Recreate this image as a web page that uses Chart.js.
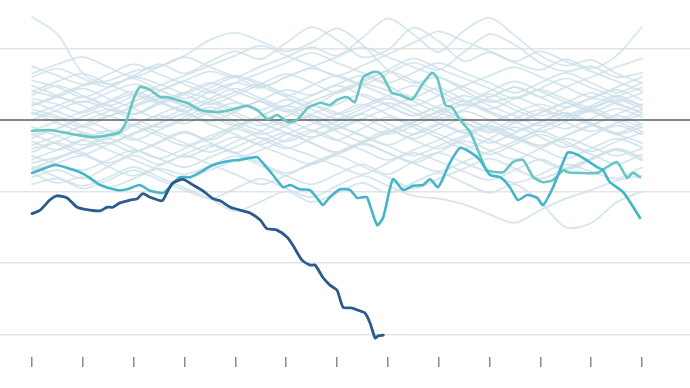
<!DOCTYPE html>
<html>
<head>
<meta charset="utf-8">
<script src="https://cdn.jsdelivr.net/npm/chart.js@4"></script>
<style>
  html, body { margin: 0; padding: 0; background: #fff; }
  #wrap { width: 690px; height: 388px; }
</style>
</head>
<body>
<div id="wrap"><canvas id="chart" width="690" height="388"></canvas></div>
<script>
// x positions of the bottom tick marks
const tickWeeks = [0, 10, 20, 30, 40, 50, 60, 70, 80, 90, 100, 110, 120];
// light gridlines; 0 is the dark baseline, drawn separately above the grey lines
const gridValues = [-30, -20, -10, 10];
const baselineValue = 0;

// background lines are sampled every 5 weeks
const bgWeeks = [0, 5, 10, 15, 20, 25, 30, 35, 40, 45, 50, 55, 60, 65, 70, 75, 80, 85, 90, 95, 100, 105, 110, 115, 120];

const bg01 = [14.4, 12.0, 6.5, 5.0, 5.8, 4.2, 3.0, 4.5, 6.0, 5.2, 3.2, 2.0, 3.8, 5.0, 4.1, 2.6, 1.2, 2.2, 3.6, 2.0, 0.6, 1.6, 3.0, 2.2, 1.0];
const bg02 = [2.0, 3.5, 4.8, 5.5, 6.8, 7.5, 9.0, 11.2, 12.2, 11.0, 9.6, 10.8, 12.8, 10.5, 7.0, 5.2, 6.0, 4.1, 2.5, 3.2, 1.8, 0.5, 1.5, 2.8, 1.6];
const bg03 = [4.0, 3.2, 2.5, 3.8, 5.0, 4.2, 5.5, 6.8, 6.0, 7.5, 8.8, 10.2, 9.0, 11.5, 14.2, 12.0, 9.5, 12.5, 14.3, 11.8, 9.0, 7.6, 8.4, 6.5, 5.2];
const bg04 = [6.0, 7.2, 5.8, 4.6, 6.2, 7.8, 6.5, 8.2, 9.6, 8.5, 10.8, 13.0, 11.2, 8.8, 9.8, 12.9, 11.0, 8.2, 9.5, 8.0, 7.0, 8.5, 7.2, 9.0, 13.0];
const bg05 = [1.0, 0.2, -1.0, 0.5, 1.8, 3.0, 2.2, 4.0, 5.2, 4.5, 6.0, 7.2, 6.1, 5.0, 6.5, 8.0, 7.0, 9.5, 12.0, 10.5, 8.0, 6.8, 7.5, 6.0, 6.6];
const bg06 = [-2.0, -1.2, 0.5, 1.5, 0.8, 2.5, 3.8, 2.9, 1.6, 2.8, 4.2, 3.5, 5.0, 6.2, 4.8, 3.2, 4.5, 2.8, 1.5, 3.0, 4.2, 2.9, 1.8, 3.3, 4.5];
const bg07 = [-4.0, -3.0, -1.8, -2.5, -0.8, 0.6, -0.5, 1.2, 2.4, 1.0, -0.6, 0.8, 2.2, 3.6, 2.1, 0.6, 1.8, -0.2, -1.5, 0.2, 1.4, -0.3, -1.6, -0.4, 0.8];
const bg08 = [-6.0, -5.2, -4.0, -3.2, -4.5, -3.0, -1.6, -2.8, -1.2, 0.2, -1.0, -2.4, -0.8, 0.8, -0.5, -2.0, -0.6, 1.2, 0.0, -1.5, -0.2, 1.0, -0.6, -2.0, -1.0];
const bg09 = [-8.0, -7.0, -8.2, -6.5, -5.0, -6.2, -4.8, -3.5, -4.6, -3.0, -1.8, -3.2, -4.5, -3.0, -1.5, -2.8, -4.0, -2.5, -1.0, -2.4, -3.6, -2.2, -0.8, -2.0, -3.2];
const bg10 = [3.0, 2.2, 1.0, 2.4, 3.6, 2.5, 1.2, 2.6, 3.9, 5.0, 3.6, 2.2, 0.8, 2.0, 3.4, 4.8, 3.5, 2.0, 3.2, 4.6, 3.2, 1.8, 3.0, 4.2, 2.8];
const bg11 = [0.0, 1.4, 2.6, 1.5, 0.2, -1.0, 0.4, 1.8, 0.6, -0.8, 0.5, 2.0, 1.0, -0.5, -2.0, -0.8, 0.6, 2.2, 1.0, -0.4, 1.0, 2.4, 1.2, 0.0, 1.5];
const bg12 = [-3.0, -4.2, -2.8, -1.5, -2.6, -4.0, -5.2, -3.8, -2.4, -3.6, -5.0, -6.2, -4.8, -3.4, -4.6, -6.0, -4.5, -3.0, -4.2, -5.5, -4.0, -2.6, -3.8, -5.0, -4.0];
const bg13 = [5.5, 4.6, 3.2, 4.5, 6.0, 5.0, 3.6, 2.2, 3.5, 5.0, 6.4, 5.2, 3.8, 5.2, 6.8, 5.5, 4.0, 2.6, 4.0, 5.4, 4.0, 2.5, 1.2, 2.5, 3.8];
const bg14 = [-1.0, -2.2, -3.5, -2.0, -0.6, -1.8, -3.2, -4.5, -3.0, -1.6, -0.2, -1.5, -2.8, -1.2, 0.4, -1.0, -2.5, -4.0, -2.6, -1.0, -2.4, -3.8, -2.2, -0.8, -2.0];
const bg15 = [-5.0, -6.2, -7.0, -5.6, -4.2, -5.4, -6.6, -5.2, -3.8, -2.5, -3.8, -5.0, -6.4, -7.6, -6.0, -4.6, -5.8, -7.2, -8.4, -7.0, -5.5, -6.8, -5.4, -4.0, -5.2];
const bg16 = [1.5, 0.5, -0.8, -2.0, -0.6, 0.8, 2.0, 0.8, -0.6, -2.0, -0.8, 0.6, -0.8, -2.2, -3.5, -2.0, -0.6, -1.8, -3.2, -1.8, -0.4, 1.0, -0.4, -1.8, -0.5];
const bg17 = [4.0, 5.4, 6.5, 5.0, 3.6, 2.4, 3.8, 5.2, 4.0, 2.6, 1.2, 2.6, 4.0, 5.5, 7.0, 8.6, 7.2, 5.8, 4.4, 3.0, 4.4, 5.8, 4.5, 3.2, 2.0];
const bg18 = [-7.0, -6.0, -5.0, -6.5, -7.8, -6.4, -5.0, -6.2, -7.6, -9.0, -7.8, -6.2, -5.0, -6.5, -8.0, -9.6, -8.2, -6.8, -5.4, -6.8, -8.2, -6.8, -5.4, -4.2, -5.6];
const bg19 = [-9.0, -8.2, -9.6, -8.4, -7.0, -8.4, -9.8, -11.0, -9.6, -8.2, -9.6, -10.8, -9.2, -7.8, -9.2, -10.6, -11.0, -11.8, -13.2, -14.4, -12.6, -11.0, -9.8, -8.5, -7.8];
const bg20 = [-6.5, -8.0, -9.2, -8.0, -6.6, -8.0, -9.5, -11.0, -12.8, -11.4, -10.0, -11.5, -10.2, -8.8, -10.2, -8.8, -7.4, -8.8, -10.2, -9.0, -11.5, -15.0, -14.4, -11.5, -10.0];
const bg21 = [2.5, 1.2, 0.0, 1.2, 2.6, 4.0, 5.4, 4.0, 2.6, 1.4, 2.8, 1.5, 0.2, 1.6, 3.0, 1.6, 0.2, 1.5, 2.8, 1.4, 0.0, -1.2, 0.2, 1.6, 0.4];
const bg22 = [-2.5, -1.2, 0.0, -1.4, -2.8, -1.4, 0.0, 1.2, -0.2, -1.6, -3.0, -1.6, -0.2, 1.0, 2.4, 1.0, -0.4, -1.8, -0.4, 1.0, 2.2, 0.8, -0.6, 0.8, 2.2];
const bg23 = [7.5, 6.2, 5.0, 6.4, 7.8, 6.4, 5.0, 3.8, 5.2, 6.6, 8.0, 9.4, 8.0, 6.6, 5.2, 6.6, 8.0, 6.6, 5.2, 3.8, 5.2, 6.6, 5.2, 3.8, 5.2];
const bg24 = [-4.5, -3.2, -4.6, -6.0, -4.6, -3.2, -1.8, -3.2, -4.6, -6.0, -7.4, -6.0, -4.6, -3.2, -4.6, -6.0, -7.2, -5.8, -4.4, -3.0, -1.6, -3.0, -4.4, -3.0, -1.8];
const bg25 = [0.8, 2.0, 3.2, 2.0, 0.8, 2.2, 3.6, 5.0, 6.2, 4.8, 3.4, 4.8, 6.2, 4.8, 3.4, 2.0, 3.4, 4.8, 6.2, 7.4, 6.0, 4.6, 3.2, 4.6, 6.0];
const bg26 = [-3.5, -2.2, -0.8, 0.5, -0.8, -2.2, -3.6, -2.2, -0.8, 0.6, 2.0, 0.6, -0.8, -2.2, -3.6, -5.0, -3.6, -2.2, -0.8, -2.2, -3.6, -2.2, -0.8, 0.6, -0.6];
const bg27 = [6.5, 7.8, 8.8, 7.4, 6.0, 7.4, 8.8, 7.4, 6.0, 4.6, 6.0, 7.4, 8.8, 10.2, 8.8, 7.4, 6.0, 4.6, 3.2, 4.6, 3.2, 4.6, 6.0, 7.4, 8.6];
const bg28 = [-5.5, -4.2, -2.8, -4.2, -5.6, -7.0, -8.2, -7.0, -5.6, -4.2, -2.8, -1.4, -2.8, -4.2, -5.6, -4.2, -2.8, -1.4, -2.8, -4.2, -5.6, -7.0, -5.6, -4.2, -5.6];
const bg29 = [2.0, 3.2, 4.4, 3.0, 1.6, 0.2, 1.6, 3.0, 4.4, 3.0, 1.6, 0.2, -1.2, 0.2, 1.6, 3.0, 1.6, 0.2, -1.2, -2.6, -1.2, 0.2, 1.6, 0.2, -1.0];
const bg30 = [-1.5, -0.2, 1.2, 2.6, 4.0, 2.6, 1.2, -0.2, 1.2, 2.6, 1.2, -0.2, -1.6, -3.0, -1.6, -0.2, 1.2, 2.6, 1.2, -0.2, -1.6, -0.2, 1.2, -0.2, -1.6];
const bg31 = [-7.5, -8.8, -8.0, -9.4, -8.2, -6.8, -7.6, -6.4, -5.0, -6.4, -7.8, -9.0, -7.6, -6.2, -7.6, -5.8, -4.6, -6.0, -7.4, -8.8, -7.6, -6.2, -7.2, -8.2, -6.6];
const bg32 = [3.5, 4.8, 3.4, 2.0, 3.4, 4.8, 6.2, 7.6, 9.0, 10.4, 9.0, 7.6, 6.2, 7.6, 9.2, 10.8, 12.4, 11.0, 9.6, 8.2, 9.6, 8.2, 6.8, 5.4, 4.0];
const bg33 = [-2.0, -3.4, -4.8, -3.4, -2.0, -0.6, 0.8, -0.6, -2.0, -3.4, -2.0, -0.6, 0.8, 2.2, 0.8, -0.6, -2.0, -3.4, -4.8, -3.4, -2.0, -3.4, -4.8, -6.2, -4.8];
const bg34 = [1.0, -0.4, -1.8, -3.2, -1.8, -0.4, 1.0, 2.4, 1.0, -0.4, -1.8, -3.2, -4.6, -3.2, -1.8, -0.4, 1.0, -0.4, -1.8, -0.4, 1.0, 2.4, 3.8, 2.4, 1.0];
const bg35 = [-6.8, -5.4, -4.0, -2.6, -4.0, -5.4, -4.0, -2.6, -1.2, -2.6, -4.0, -2.6, -1.2, 0.2, -1.2, -2.6, -1.2, 0.2, -1.2, -2.6, -4.0, -5.4, -4.0, -2.6, -3.8];
const bg36 = [4.8, 3.4, 2.0, 0.6, 2.0, 3.4, 2.0, 0.6, -0.8, 0.6, 2.0, 3.4, 4.8, 3.4, 2.0, 0.6, 2.0, 3.4, 2.0, 0.6, -0.8, 0.6, 2.0, 3.4, 2.0];

const bgLines = [bg01, bg02, bg03, bg04, bg05, bg06, bg07, bg08, bg09, bg10, bg11, bg12,
  bg13, bg14, bg15, bg16, bg17, bg18, bg19, bg20, bg21, bg22, bg23, bg24,
  bg25, bg26, bg27, bg28, bg29, bg30, bg31, bg32, bg33, bg34, bg35, bg36];

// highlighted lines: [week, value]
const upperTeal = [
  [0, -1.5], [3.5, -1.4], [8.9, -2.1], [12.0, -2.4], [15.3, -2.1], [17.3, -1.7], [18.5, -0.3],
  [19.9, 2.8], [21.2, 4.6], [23.2, 4.2], [25.2, 3.2], [26.6, 3.2], [28.5, 2.8], [30.5, 2.4],
  [33.1, 1.4], [36.4, 1.1], [39.0, 1.4], [42.3, 2.0], [44.3, 1.4], [46.4, 0.1], [48.2, 0.7],
  [50.4, -0.3], [52.1, 0.0], [54.3, 1.7], [56.7, 2.4], [58.6, 2.1], [60.0, 2.8], [62.0, 3.2],
  [63.5, 2.5], [65.1, 5.9], [67.1, 6.7], [68.1, 6.7], [69.1, 6.0], [70.8, 3.8], [72.4, 3.5],
  [74.8, 2.9], [76.7, 4.9], [78.7, 6.6], [79.7, 5.9], [81.3, 2.1], [82.6, 1.8], [84.2, 0.0],
  [86.2, -1.7], [88.1, -4.9], [89.5, -7.0], [92.7, -7.3], [94.6, -5.9], [96.6, -5.6], [98.6, -8.0],
  [100.5, -8.7], [102.5, -8.4], [104.5, -7.0], [105.3, -7.3], [107.8, -7.4], [111.2, -7.4],
  [113.1, -6.6], [115.1, -5.9], [117.1, -8.1], [118.2, -7.4], [119.6, -8.0]
];
const lowerTeal = [
  [0, -7.4], [1.6, -7.0], [4.5, -6.3], [6.9, -6.7], [9.4, -7.3], [11.4, -8.1], [13.4, -9.1],
  [16.7, -9.8], [18.7, -9.7], [21.2, -9.1], [23.2, -9.9], [25.8, -10.2], [27.1, -9.4], [29.1, -8.0],
  [31.1, -8.0], [33.1, -7.3], [35.6, -6.3], [39.0, -5.7], [40.9, -5.6], [42.9, -5.3], [44.3, -5.2],
  [45.4, -6.0], [47.4, -7.7], [49.4, -9.4], [50.8, -9.1], [52.7, -9.7], [54.7, -9.8], [56.7, -11.5],
  [57.2, -11.9], [58.6, -10.8], [60.6, -9.7], [62.6, -9.8], [63.9, -10.9], [65.1, -10.8], [65.9, -10.8],
  [67.9, -14.7], [69.1, -13.6], [71.0, -8.3], [73.0, -9.8], [75.0, -9.2], [76.9, -9.1], [78.3, -8.3],
  [79.9, -9.4], [82.2, -6.0], [84.2, -3.9], [86.2, -4.5], [88.1, -5.6], [90.1, -7.7], [92.1, -8.0],
  [94.0, -9.4], [95.6, -11.2], [97.4, -10.5], [99.4, -10.9], [100.5, -11.9], [102.5, -9.4],
  [105.3, -4.6], [106.4, -4.6], [108.4, -5.3], [111.2, -6.6], [112.3, -7.0], [113.7, -8.7],
  [116.3, -10.1], [119.6, -13.7]
];
const darkBlue = [
  [0, -13.1], [1.6, -12.6], [3.5, -11.2], [4.9, -10.6], [6.9, -10.9], [8.9, -12.2], [11.4, -12.6],
  [13.4, -12.7], [14.8, -12.2], [15.9, -12.2], [17.3, -11.6], [19.3, -11.2], [20.7, -11.0],
  [21.8, -10.3], [23.2, -10.8], [25.6, -11.3], [26.8, -9.8], [27.7, -8.8], [29.7, -8.3], [31.7, -9.1],
  [33.6, -9.9], [35.6, -11.0], [37.0, -11.3], [39.0, -12.2], [40.9, -12.6], [42.9, -13.0],
  [44.9, -14.0], [46.2, -15.2], [48.2, -15.4], [50.2, -16.4], [51.3, -17.5], [53.1, -19.6],
  [54.7, -20.3], [55.7, -20.3], [57.2, -22.0], [58.6, -23.1], [60.0, -23.8], [61.2, -26.2],
  [63.0, -26.3], [64.1, -26.6], [65.5, -27.0], [66.5, -28.4], [67.5, -30.5], [68.1, -30.2], [69.1, -30.1]
];

const toPoints = arr => arr.map(p => ({ x: p[0], y: p[1] }));

const datasets = [
  { data: toPoints(darkBlue), borderColor: '#2b5b8e', borderWidth: 2.8, tension: 0.2 },
  { data: toPoints(lowerTeal), borderColor: '#44b4c8', borderWidth: 2.6, tension: 0.2 },
  { data: toPoints(upperTeal), borderColor: '#66c6c4', borderWidth: 2.6, tension: 0.2 }
];
const HIGHLIGHTS = 3;
bgLines.forEach(vals => {
  datasets.push({
    data: bgWeeks.map((w, i) => ({ x: w, y: vals[i] })),
    borderColor: 'rgba(206, 224, 234, 0.85)',
    borderWidth: 1.7,
    tension: 0.3
  });
});

// dark zero line: above the grey lines, below the highlighted ones
const baselinePlugin = {
  id: 'baseline',
  beforeDatasetDraw(chart, args) {
    if (args.index !== HIGHLIGHTS - 1) return;
    const { ctx, chartArea } = chart;
    const y = chart.scales.y.getPixelForValue(baselineValue);
    ctx.save();
    ctx.strokeStyle = '#5e5e5e';
    ctx.lineWidth = 1.6;
    ctx.beginPath();
    ctx.moveTo(chartArea.left, y);
    ctx.lineTo(chartArea.right, y);
    ctx.stroke();
    ctx.restore();
  }
};

new Chart(document.getElementById('chart').getContext('2d'), {
  type: 'line',
  data: { datasets: datasets },
  plugins: [baselinePlugin],
  options: {
    responsive: false,
    animation: false,
    layout: { padding: { top: 0, bottom: 21, left: 0, right: 0 } },
    elements: {
      point: { radius: 0 },
      line: { fill: false, borderCapStyle: 'round', borderJoinStyle: 'round' }
    },
    plugins: { legend: { display: false }, tooltip: { enabled: false } },
    scales: {
      x: {
        type: 'linear',
        min: -6.3,
        max: 129.44,
        border: { display: false },
        grid: { drawOnChartArea: false, drawTicks: true, tickLength: 10, color: '#8a8a8a', lineWidth: 1.5 },
        ticks: { display: false },
        afterBuildTicks: scale => { scale.ticks = tickWeeks.map(v => ({ value: v })); }
      },
      y: {
        min: -33.15,
        max: 16.78,
        border: { display: false },
        grid: { drawTicks: false, color: '#e4e4e4', lineWidth: 1.4 },
        ticks: { display: false },
        afterBuildTicks: scale => { scale.ticks = gridValues.map(v => ({ value: v })); }
      }
    }
  }
});
</script>
</body>
</html>
